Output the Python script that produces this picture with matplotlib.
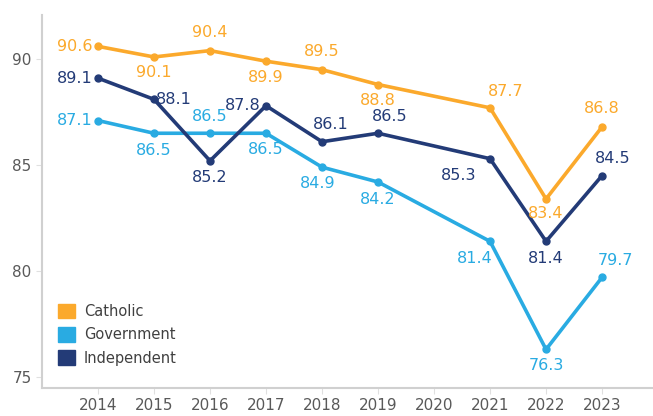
import matplotlib.pyplot as plt
import matplotlib.patches as mpatches

tick_years = [2014, 2015, 2016, 2017, 2018, 2019, 2020, 2021, 2022, 2023]
years = [2014, 2015, 2016, 2017, 2018, 2019, 2021, 2022, 2023]
catholic = [90.6, 90.1, 90.4, 89.9, 89.5, 88.8, 87.7, 83.4, 86.8]
government = [87.1, 86.5, 86.5, 86.5, 84.9, 84.2, 81.4, 76.3, 79.7]
independent = [89.1, 88.1, 85.2, 87.8, 86.1, 86.5, 85.3, 81.4, 84.5]

# label offsets in pixels (dx, dy), y up
off_cat = [(-23, 0), (0, -16), (0, 18), (0, -16), (0, 18), (0, -16), (16, 16), (0, -15), (0, 18)]
off_gov = [(-23, 0), (0, -17), (0, 17), (0, -16), (-4, -16), (0, -17), (-15, -17), (0, -16), (13, 17)]
off_ind = [(-23, 0), (20, 0), (0, -17), (-23, 0), (9, 17), (12, 17), (-31, -17), (0, -17), (11, 17)]

c_cat = '#FBA92C'
c_gov = '#29ABE2'
c_ind = '#233B77'

fig = plt.figure(figsize=(6.53, 4.16), dpi=100)
ax = fig.add_axes([42 / 653, 28 / 416, 611 / 653, 373 / 416])

for vals, offs, col in [(catholic, off_cat, c_cat),
                        (government, off_gov, c_gov),
                        (independent, off_ind, c_ind)]:
    ax.plot(years, vals, color=col, lw=2.6, marker='o', ms=5)
    for x, y, (dx, dy) in zip(years, vals, offs):
        ax.annotate(f'{y:.1f}', (x, y), xytext=(dx, dy), textcoords='offset pixels',
                    ha='center', va='center', color=col, fontsize=11.5)

ax.set_xlim(2013, 2023.91)
ax.set_ylim(74.48, 92.08)
ax.set_xticks(tick_years)
ax.set_yticks([75, 80, 85, 90])
ax.tick_params(colors='#E0E0E0', labelcolor='#595959', labelsize=11, length=4)
ax.tick_params(axis='x', pad=3)
for s in ['top', 'right']:
    ax.spines[s].set_visible(False)
for s in ['left', 'bottom']:
    ax.spines[s].set_color('#D0D0D0')
    ax.spines[s].set_linewidth(1.5)

handles = [mpatches.Patch(color=c) for c in [c_cat, c_gov, c_ind]]
ax.legend(handles, ['Catholic', 'Government', 'Independent'], loc='lower left',
          bbox_to_anchor=(0.005, 0.025), frameon=False, fontsize=10.5,
          handlelength=1.15, handleheight=1.15, handletextpad=0.6,
          labelcolor='#404040', labelspacing=0.55)

fig.savefig('out.png', dpi=100)
